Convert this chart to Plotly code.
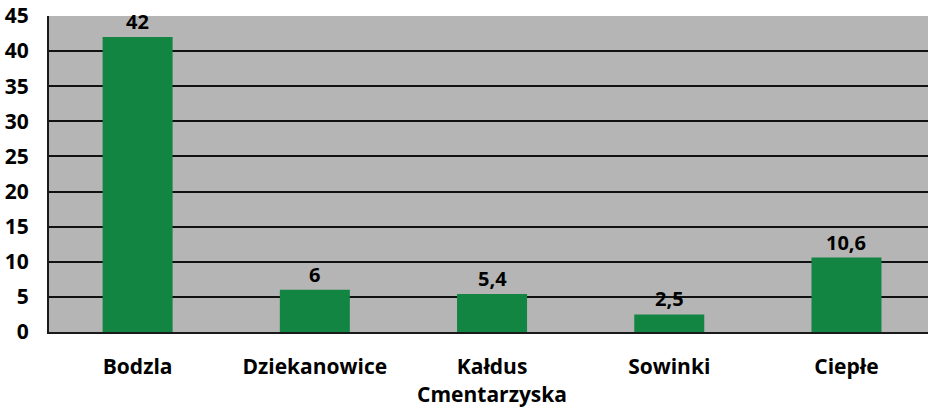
import plotly.graph_objects as go

categories = ["Bodzla", "Dziekanowice", "Kałdus<br>Cmentarzyska", "Sowinki", "Ciepłe"]
values = [42, 6, 5.4, 2.5, 10.6]
y_ticks = [0, 5, 10, 15, 20, 25, 30, 35, 40, 45]

FONT = "Open Sans"

fig = go.Figure(go.Bar(
    x=categories,
    y=values,
    marker=dict(color="#138543", line=dict(width=0)),
    hoverinfo="skip",
))

for c, v in zip(categories, values):
    fig.add_annotation(
        x=c, y=v, text=f"{v:g}".replace(".", ","),
        showarrow=False, yanchor="bottom", yshift=0,
        font=dict(family=FONT, size=20, color="black", weight="bold"),
    )

fig.update_layout(
    width=928, height=408,
    margin=dict(l=49, r=0, t=16, b=76, autoexpand=False),
    paper_bgcolor="white",
    plot_bgcolor="#b4b5b4",
    bargap=0.605,
    showlegend=False,
    font=dict(family=FONT, size=21, color="black", weight="bold"),
)
fig.update_xaxes(
    automargin=False,
    range=[-0.5, 4.46],
    showgrid=False,
    showline=True, linecolor="#1a1a1a", linewidth=2,
    ticks="",
    ticklabelstandoff=15,
    tickfont=dict(family=FONT, size=21, color="black", weight="bold"),
)
fig.update_yaxes(
    automargin=False,
    range=[0, 45],
    tickvals=y_ticks,
    showgrid=True, gridcolor="#111111", gridwidth=1.5,
    showline=True, linecolor="#1a1a1a", linewidth=2,
    zeroline=False,
    ticks="",
    ticklabelstandoff=14,
    tickfont=dict(family=FONT, size=21, color="black", weight="bold"),
)

fig.write_html(
    "out.html",
    config={"displayModeBar": False},
    post_script="document.body.style.margin='0';document.body.style.overflow='hidden';",
)
